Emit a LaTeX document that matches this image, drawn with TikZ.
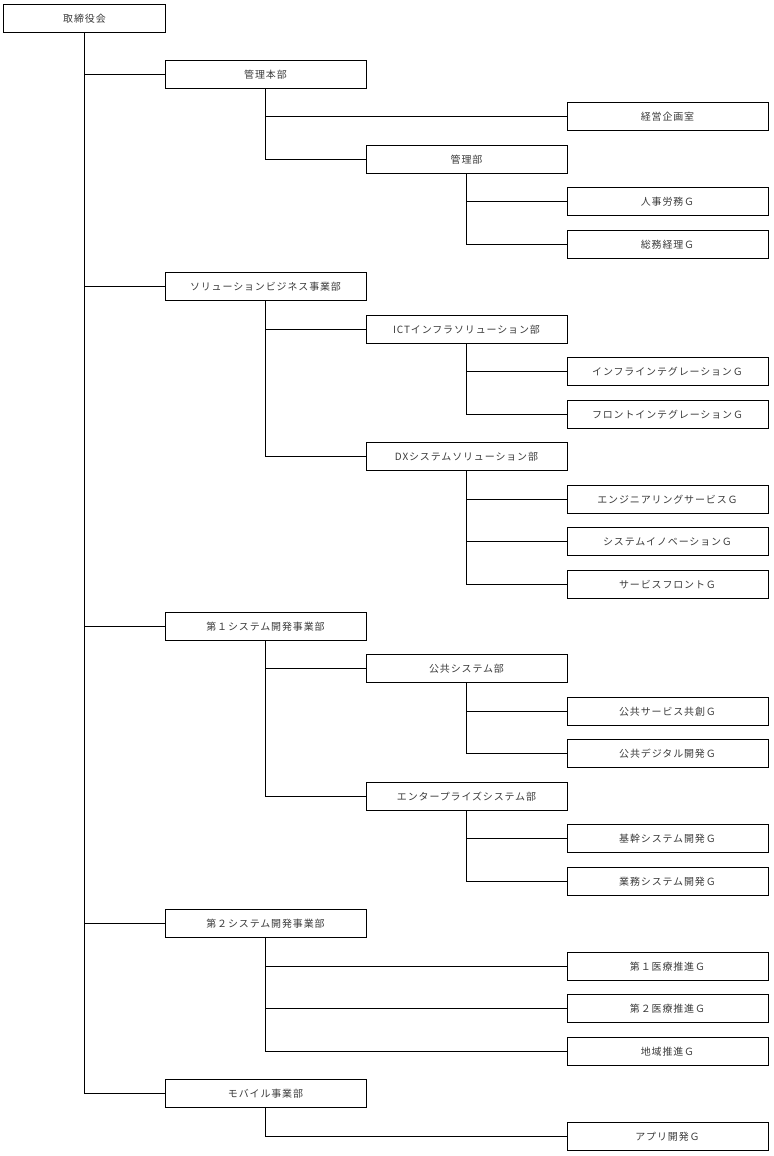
\documentclass[tikz,border=0pt]{standalone}
\usepackage{fontspec}
\newfontfamily\jpfont[LetterSpace=9]{Noto Sans CJK JP}
\definecolor{labelgray}{HTML}{3A3A3A}
\tikzset{
  unit/.style={draw=black, line width=1bp, fill=white, minimum width=201bp,
    minimum height=28bp, inner sep=0pt, text=labelgray,
    font=\jpfont\fontsize{10}{12}\selectfont},
  link/.style={line width=1bp}
}
\begin{document}
\begin{tikzpicture}[x=1bp,y=-1bp]
  \useasboundingbox (0,0) rectangle (774,1156);
  \node[unit,minimum width=161bp] (board) at (84.5,18.5) {取締役会};
  \foreach \lv/\r/\nm/\txt in {
    1/1/hq/管理本部, 3/2/plan/経営企画室, 2/3/admin/管理部, 3/4/hr/人事労務Ｇ, 3/5/ga/総務経理Ｇ,
    1/6/sol/ソリューションビジネス事業部, 2/7/ict/ICTインフラソリューション部,
    3/8/infra/インフラインテグレーションＧ, 3/9/front/フロントインテグレーションＧ,
    2/10/dx/DXシステムソリューション部, 3/11/eng/エンジニアリングサービスＧ,
    3/12/inno/システムイノベーションＧ, 3/13/svc/サービスフロントＧ,
    1/14/sysa/第１システム開発事業部, 2/15/pub/公共システム部,
    3/16/pubsvc/公共サービス共創Ｇ, 3/17/pubdx/公共デジタル開発Ｇ,
    2/18/ent/エンタープライズシステム部, 3/19/core/基幹システム開発Ｇ, 3/20/biz/業務システム開発Ｇ,
    1/21/sysb/第２システム開発事業部, 3/22/medA/第１医療推進Ｇ, 3/23/medB/第２医療推進Ｇ,
    3/24/area/地域推進Ｇ, 1/25/mob/モバイル事業部, 3/26/app/アプリ開発Ｇ} {
    \pgfmathsetmacro{\x}{265.5+201*(\lv-1)}
    \pgfmathsetmacro{\y}{floor(74.5+42.46*(\r-1))+0.5}
    \node[unit] (\nm) at (\x,\y) {\txt};
  }
  \foreach \a/\b in {board/hq, board/sol, board/sysa, board/sysb, board/mob,
    hq/plan, hq/admin, admin/hr, admin/ga, sol/ict, sol/dx, ict/infra, ict/front,
    dx/eng, dx/inno, dx/svc, sysa/pub, sysa/ent, pub/pubsvc, pub/pubdx,
    ent/core, ent/biz, sysb/medA, sysb/medB, sysb/area, mob/app}
    \draw[link] (\a.south) |- (\b.west);
\end{tikzpicture}
\end{document}
